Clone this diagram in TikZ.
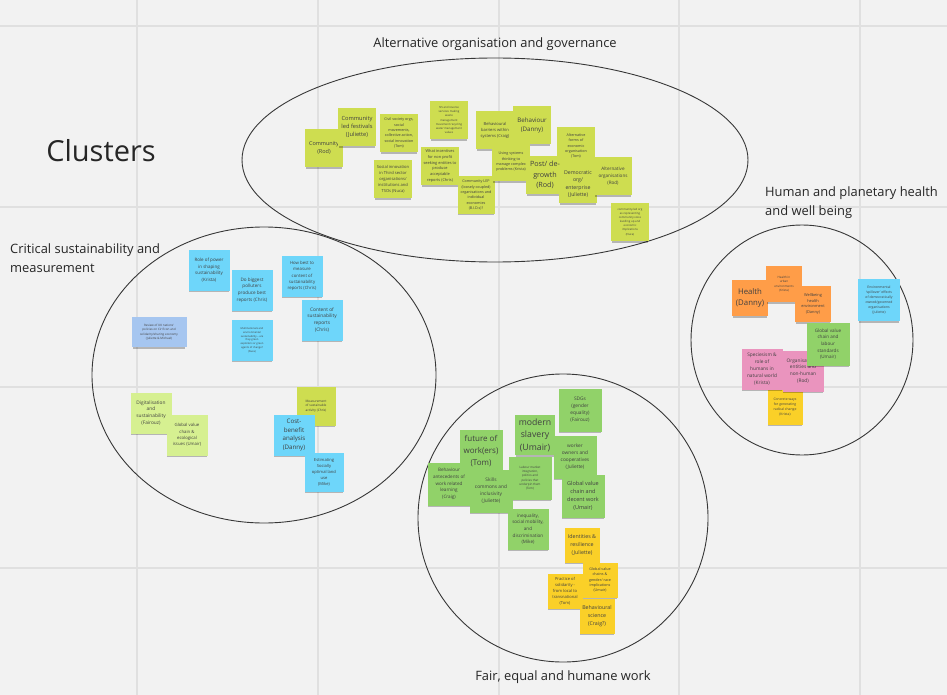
\documentclass[tikz,border=0pt]{standalone}
\usepackage{fontspec}
\setmainfont{Open Sans}
\usetikzlibrary{shadows}
\newcommand{\fs}[1]{\fontsize{#1}{1.45\dimexpr#1pt\relax}\selectfont}
\newcommand{\boardWidth}{947}
\newcommand{\boardHeight}{695}
\definecolor{boardGrey}{RGB}{242,242,242}
\definecolor{gridGrey}{RGB}{224,224,224}
\definecolor{ringGrey}{RGB}{55,55,55}
\definecolor{noteLime}{RGB}{206,221,80}
\definecolor{notePale}{RGB}{214,240,145}
\definecolor{noteBlue}{RGB}{110,214,250}
\definecolor{noteLilac}{RGB}{166,198,240}
\definecolor{noteOrange}{RGB}{255,157,72}
\definecolor{noteGreen}{RGB}{145,210,105}
\definecolor{notePink}{RGB}{234,148,190}
\definecolor{noteYellow}{RGB}{250,208,40}
\tikzset{
  note/.style={inner sep=0pt, align=center, text=black!75,
    drop shadow={shadow xshift=0pt, shadow yshift=-2.5pt, shadow scale=0.96, opacity=0.25, fill=black}},
  sticky/.style={minimum width=#1pt, minimum height=#1pt},
  ring/.style={draw=ringGrey, line width=0.9pt},
  heading/.style={inner sep=0pt, text=black!85, font=\fs{12.9}},
  gridline/.style={draw=gridGrey, line width=1.4pt}
}

\begin{document}
\begin{tikzpicture}[x=1pt, y=-1pt]
\useasboundingbox (0,0) rectangle (\boardWidth,\boardHeight);
\fill[boardGrey] (0,0) rectangle (\boardWidth,\boardHeight);
\draw[gridline] (137,0) -- (137,\boardHeight);
\draw[gridline] (318,0) -- (318,\boardHeight);
\draw[gridline] (499,0) -- (499,\boardHeight);
\draw[gridline] (679,0) -- (679,\boardHeight);
\draw[gridline] (860,0) -- (860,\boardHeight);
\draw[gridline, line width=2.2pt] (0,26) -- (\boardWidth,26);
\draw[gridline] (0,207) -- (\boardWidth,207);
\draw[gridline] (0,387) -- (\boardWidth,387);
\draw[gridline] (0,568) -- (\boardWidth,568);

\draw[ring] (495,160) ellipse [x radius=253, y radius=102];
\draw[ring] (264,375) ellipse [x radius=172, y radius=148];
\draw[ring] (563,518) ellipse [x radius=145, y radius=144];
\draw[ring] (802,340) ellipse [x radius=111, y radius=115];

\node[heading, font=\fs{29}] (clusters) at (101,151) {Clusters};
\node[heading] (altTitle) at (495,44) {Alternative organisation and governance};
\node[heading, anchor=west, align=left] (healthTitle) at (765,203) {Human and planetary health\\and well being};
\node[heading, anchor=west, align=left] (criticalTitle) at (10,258) {Critical sustainability and\\measurement};
\node[heading] (fairTitle) at (563,677) {Fair, equal and humane work};

\node[note, sticky=38, fill=noteLime, font=\fs{5.5}] (community) at (324,148) {Community\\(Rod)};
\node[note, sticky=38, fill=noteLime, font=\fs{5.7}] (festivals) at (357,127) {Community\\led festivals\\(Juliette)};
\node[note, sticky=38, fill=noteLime, font=\fs{3.7}] (civil) at (399,133) {Civil society orgs,\\social\\movements,\\collective action,\\social innovation\\(Tom)};
\node[note, sticky=38, fill=noteLime, font=\fs{2.8}] (waste) at (449,120) {SIS and reverse\\services making\\waste\\management\\movement recycling\\water management\\values};
\node[note, sticky=38, fill=noteLime, font=\fs{4.1}] (thirdSector) at (393,179) {Social innovation\\in Third sector\\organisations/\\institutions and\\TSOs (Nuca)};
\node[note, sticky=38, fill=noteLime, font=\fs{3.9}] (incentives) at (440,166) {What incentives\\for non profit\\seeking entities to\\produce\\acceptable\\reports (Chris)};
\node[note, sticky=37, fill=noteLime, font=\fs{3.7}] (communityLep) at (476,195) {Community LEP\\(loosely coupled)\\organisations and\\individual\\economies\\(B.I.D.s)?};
\node[note, sticky=38, fill=noteLime, font=\fs{4.1}] (barriers) at (495,130) {Behavioural\\barriers within\\systems (Craig)};
\node[note, sticky=38, fill=noteLime, font=\fs{6.2}] (behaviour) at (532,125) {Behaviour\\(Danny)};
\node[note, sticky=38, fill=noteLime, font=\fs{3.7}] (systems) at (511,162) {Using systems\\thinking to\\manage complex\\problems (Krista)};
\node[note, sticky=38, fill=noteLime, font=\fs{3.7}] (altForms) at (576,146) {Alternative\\forms of\\economic\\organisation\\(Tom)};
\node[note, sticky=38, fill=noteLime, font=\fs{7.2}] (degrowth) at (545,175) {Post/ de-\\growth\\(Rod)};
\node[note, sticky=38, fill=noteLime, font=\fs{5.2}] (democratic) at (578,184) {Democratic\\org/\\enterprise\\(Juliette)};
\node[note, sticky=38, fill=noteLime, font=\fs{4.6}] (altOrgs) at (613,176) {Alternative\\organisations\\(Rod)};
\node[note, sticky=38, fill=noteLime, font=\fs{2.8}] (communityVoice) at (630,222) {community-led org\\as representing\\community voice\\levelling up and\\economic\\implications\\(Nuca)};

\node[note, sticky=41, fill=noteBlue, font=\fs{4.5}] (power) at (209,270) {Role of power\\in shaping\\sustainability\\(Krista)};
\node[note, sticky=41, fill=noteBlue, font=\fs{4.6}] (polluters) at (252,290) {Do biggest\\polluters\\produce best\\reports (Chris)};
\node[note, sticky=41, fill=noteBlue, font=\fs{4.3}] (measure) at (302,276) {How best to\\measure\\content of\\sustainability\\reports (Chris)};
\node[note, sticky=41, fill=noteBlue, font=\fs{4.8}] (content) at (322,320) {Content of\\sustainability\\reports\\(Chris)};
\node[note, minimum width=55pt, minimum height=30pt, fill=noteLilac, font=\fs{3.0}] (review) at (159,332) {Review of UK nations'\\policies on Cir Econ and\\solidarity/sharing economy\\(Juliette \& Michael)};
\node[note, sticky=41, fill=noteBlue, font=\fs{2.6}] (multinationals) at (252,340) {Multinationals and\\environmental\\sustainability -- are\\they green\\exploiters or green\\agents of change?\\(Nuca)};
\node[note, sticky=41, fill=notePale, font=\fs{4.8}] (digital) at (151,413) {Digitalisation\\and\\sustainability\\(Fairouz)};
\node[note, sticky=41, fill=notePale, font=\fs{4.3}] (ecological) at (187,435) {Global value\\chain \&\\ecological\\issues (Umair)};
\node[note, sticky=39, fill=noteLime, font=\fs{3.2}] (measurement) at (316,406) {Measurement\\of sustainable\\activity (Chris)};
\node[note, sticky=41, fill=noteBlue, font=\fs{6.2}] (costBenefit) at (294,435) {Cost-\\benefit\\analysis\\(Danny)};
\node[note, sticky=39, fill=noteBlue, font=\fs{4.1}] (landUse) at (324,472) {Estimating\\Socially\\optimal land\\use\\(Mike)};

\node[note, sticky=36, fill=noteOrange, font=\fs{7.8}] (health) at (750,298) {Health\\(Danny)};
\node[note, sticky=36, fill=noteOrange, font=\fs{3.0}] (urban) at (784,284) {Health in\\urban\\environments\\(Krista)};
\node[note, sticky=36, fill=noteOrange, font=\fs{3.9}] (wellbeing) at (813,304) {Wellbeing\\health\\environment\\(Danny)};
\node[note, sticky=42, fill=noteBlue, font=\fs{3.4}] (spillover) at (879,300) {Environmental\\`spillover' effects\\of democratically\\owned/governed\\organisations\\(Juliette)};
\node[note, sticky=35, fill=noteYellow, font=\fs{3.4}] (radical) at (785,407) {Concrete ways\\for generating\\radical change\\(Krista)};
\node[note, sticky=41, fill=notePink, font=\fs{4.8}] (speciesism) at (762,369) {Speciesism \&\\role of\\humans in\\natural world\\(Krista)};
\node[note, sticky=41, fill=notePink, font=\fs{4.8}] (nonHuman) at (803,371) {Organisational\\entities and\\non-human\\(Rod)};
\node[note, sticky=43, fill=noteGreen, font=\fs{4.6}] (labour) at (828,344) {Global value\\chain and\\labour\\standards\\(Umair)};

\node[note, sticky=43, fill=noteGreen, font=\fs{4.8}] (sdgs) at (580,410) {SDGs\\(gender\\equality)\\(Fairouz)};
\node[note, sticky=40, fill=noteGreen, font=\fs{8.7}] (slavery) at (535,435) {modern\\slavery\\(Umair)};
\node[note, sticky=43, fill=noteGreen, font=\fs{8}] (futureWork) at (481,451) {future of\\work(ers)\\(Tom)};
\node[note, sticky=43, fill=noteGreen, font=\fs{4.8}] (cooperatives) at (575,457) {worker\\owners and\\cooperatives\\(Juliette)};
\node[note, sticky=43, fill=noteGreen, font=\fs{4.6}] (antecedents) at (449,484) {Behaviour\\antecedents of\\work related\\learning\\(Craig)};
\node[note, sticky=43, fill=noteGreen, font=\fs{3.0}] (labourMarket) at (530,478) {Labour market\\integration,\\politics and\\policies that\\underpin them\\(Tom)};
\node[note, sticky=43, fill=noteGreen, font=\fs{4.8}] (skills) at (491,491) {Skills\\commons and\\inclusivity\\(Juliette)};
\node[note, sticky=43, fill=noteGreen, font=\fs{5.5}] (decentWork) at (583,496) {Global value\\chain and\\decent work\\(Umair)};
\node[note, sticky=41, fill=noteGreen, font=\fs{4.6}] (inequality) at (528,529) {inequality,\\social mobility,\\and\\discrimination\\(Mike)};
\node[note, sticky=35, fill=noteYellow, font=\fs{5.3}] (identities) at (582,545) {Identities \&\\resilience\\(Juliette)};
\node[note, sticky=35, fill=noteYellow, font=\fs{3.7}] (genderRace) at (600,580) {Global value\\chains \&\\gender/ race\\implications\\(Umair)};
\node[note, sticky=35, fill=noteYellow, font=\fs{4.1}] (solidarity) at (565,591) {Practice of\\solidarity -\\from local to\\transnational\\(Tom)};
\node[note, sticky=35, fill=noteYellow, font=\fs{5.3}] (behavSci) at (597,616) {Behavioural\\science\\(Craig?)};
\end{tikzpicture}
\end{document}
